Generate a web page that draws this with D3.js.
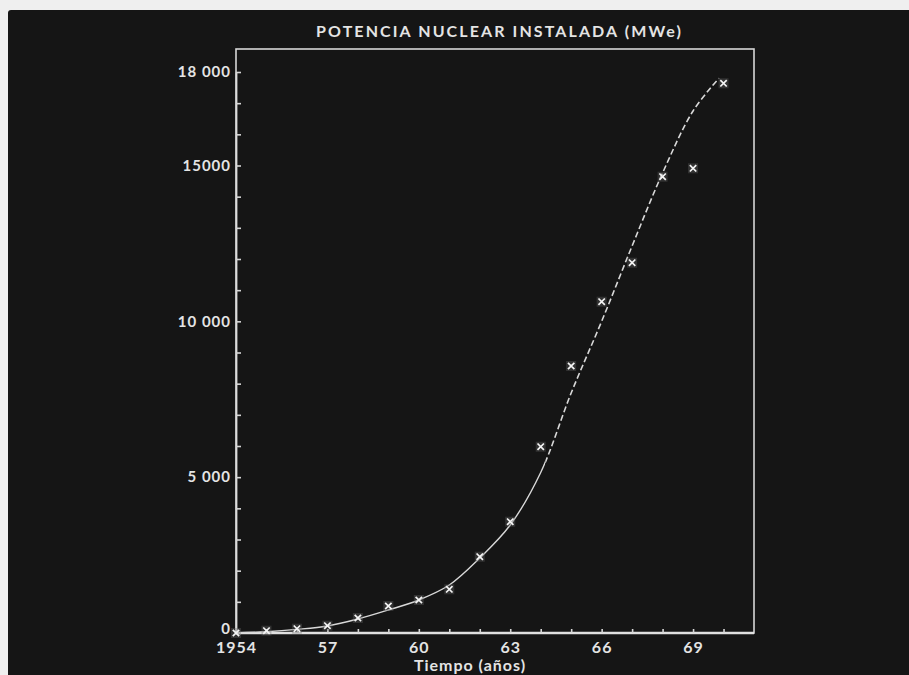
<!DOCTYPE html>
<html>
<head>
<meta charset="utf-8">
<script src="https://cdn.jsdelivr.net/npm/d3@7.9.0/dist/d3.min.js"></script>
<style>
  html, body { margin: 0; padding: 0; background: #f2f2f2; }
  svg { display: block; }
  .lbl { font-family: Lato, "Open Sans", sans-serif; font-weight: 700; fill: #e4e4e4; }
</style>
</head>
<body>
<svg id="chart" width="909" height="675"></svg>
<script>
// Installed nuclear power (MWe), one value per year
const years = d3.range(1954, 1971);
const installed = [0, 74, 138, 234, 481, 866, 1059, 1402, 2448, 3571, 5977, 8567, 10630, 11881, 14640, 14910, 17637];

// Fitted curve (solid up to the split year, dashed after)
const curveYears = [1954, 1955, 1956, 1957, 1958, 1959, 1960, 1961, 1962, 1963, 1964, 1965, 1966, 1967, 1968, 1969, 1969.85];
const curveValues = [0, 40, 115, 225, 449, 738, 1059, 1540, 2406, 3465, 5150, 7700, 10000, 12420, 14760, 16750, 17800];
const splitYear = 1964.15;

// Axis ticks
const xTicks = d3.range(1954, 1971);
const xTickLabels = { 1954: '1954', 1957: '57', 1960: '60', 1963: '63', 1966: '66', 1969: '69' };
const yTicks = d3.range(0, 18001, 1000);
const yTickLabels = { 0: '0', 5000: '5 000', 10000: '10 000', 15000: '15000', 18000: '18 000' };

const title = 'POTENCIA NUCLEAR INSTALADA (MWe)';
const xTitle = 'Tiempo (años)';

const svg = d3.select('#chart');

// dark photographic background with light margin at top/left
svg.append('rect').attr('x', 0).attr('y', 0).attr('width', 909).attr('height', 675).attr('fill', '#efefef');
svg.append('rect').attr('x', 8).attr('y', 10).attr('width', 909).attr('height', 680)
    .attr('rx', 3).attr('fill', '#151515');

const plotLeft = 236, plotRight = 754, plotTop = 49, plotBottom = 633;

const x = d3.scaleLinear().domain([1954, 1971]).range([plotLeft, plotRight]);
const y = d3.scaleLinear().domain([0, 18000]).range([plotBottom, 72]);

// frame
svg.append('rect')
    .attr('x', plotLeft).attr('y', plotTop)
    .attr('width', plotRight - plotLeft).attr('height', plotBottom - plotTop)
    .attr('fill', 'none').attr('stroke', '#d6d6d6').attr('stroke-width', 1.6);

// y axis (ticks point inward)
const yAxis = svg.append('g')
    .attr('transform', `translate(${plotLeft},0)`)
    .call(d3.axisLeft(y)
        .tickValues(yTicks)
        .tickSizeInner(-5)
        .tickSizeOuter(0)
        .tickPadding(5)
        .tickFormat(d => yTickLabels[d] || ''));
yAxis.select('.domain').attr('stroke', '#dcdcdc').attr('stroke-width', 1.8);
yAxis.selectAll('.tick line').attr('stroke', '#d6d6d6').attr('stroke-width', 1.6);
yAxis.selectAll('.tick text')
    .attr('class', 'lbl')
    .style('font-size', '15px')
    .style('letter-spacing', '1px');
// the zero sits a little above the axis line
yAxis.selectAll('.tick text').filter(d => d === 0).attr('y', -4);

// x axis (ticks point up)
const xAxis = svg.append('g')
    .attr('transform', `translate(0,${plotBottom})`)
    .call(d3.axisBottom(x)
        .tickValues(xTicks)
        .tickSizeInner(-4)
        .tickSizeOuter(0)
        .tickPadding(9)
        .tickFormat(d => xTickLabels[d] || ''));
xAxis.select('.domain').attr('stroke', '#e0e0e0').attr('stroke-width', 2.4)
    .attr('d', `M${plotLeft},0H${plotRight}`);
xAxis.selectAll('.tick line').attr('stroke', '#d6d6d6').attr('stroke-width', 1.6);
xAxis.selectAll('.tick text')
    .attr('class', 'lbl')
    .style('font-size', '16px')
    .style('letter-spacing', '1px');

// title and x label
svg.append('text')
    .attr('class', 'lbl')
    .attr('x', 316).attr('y', 37)
    .attr('textLength', 365).attr('lengthAdjust', 'spacing')
    .style('font-size', '16px')
    .text(title);

svg.append('text')
    .attr('class', 'lbl')
    .attr('x', 470).attr('y', 671)
    .attr('text-anchor', 'middle')
    .style('font-size', '16px')
    .style('letter-spacing', '1px')
    .text(xTitle);

// fitted curve: one smooth path, clipped into solid and dashed parts
const defs = svg.append('defs');
defs.append('clipPath').attr('id', 'clip-solid')
    .append('rect').attr('x', 0).attr('y', 0).attr('width', x(splitYear)).attr('height', 675);
defs.append('clipPath').attr('id', 'clip-dash')
    .append('rect').attr('x', x(splitYear)).attr('y', 0).attr('width', 909).attr('height', 675);

const line = d3.line()
    .x(d => x(d[0]))
    .y(d => y(d[1]))
    .curve(d3.curveCatmullRom.alpha(0.5));
const curveData = d3.zip(curveYears, curveValues);

svg.append('path')
    .datum(curveData)
    .attr('d', line)
    .attr('clip-path', 'url(#clip-solid)')
    .attr('fill', 'none')
    .attr('stroke', '#d8d8d8')
    .attr('stroke-width', 1.4);

svg.append('path')
    .datum(curveData)
    .attr('d', line)
    .attr('clip-path', 'url(#clip-dash)')
    .attr('fill', 'none')
    .attr('stroke', '#d8d8d8')
    .attr('stroke-width', 1.6)
    .attr('stroke-dasharray', '6,3');

// data points as small crosses
const marks = svg.append('g');
const s = 3.2;
d3.zip(years, installed).forEach(([yr, v]) => {
    const cx = x(yr), cy = y(v);
    const g = marks.append('g').attr('transform', `translate(${cx},${cy})`);
    g.append('rect').attr('x', -5).attr('y', -5).attr('width', 10).attr('height', 10)
        .attr('fill', '#6a6a6a').attr('opacity', 0.35);
    g.append('path')
        .attr('d', `M${-s},${-s}L${s},${s}M${-s},${s}L${s},${-s}`)
        .attr('stroke', '#f4f4f4')
        .attr('stroke-width', 1.7);
});
</script>
</body>
</html>
